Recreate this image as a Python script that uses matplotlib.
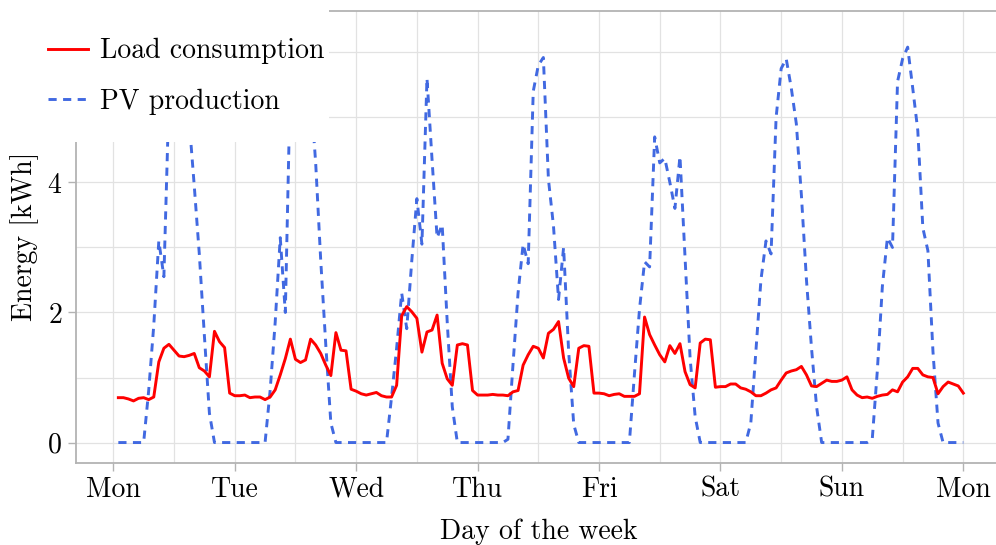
import numpy as np
import matplotlib
matplotlib.use("Agg")
import matplotlib.pyplot as plt
from matplotlib.patches import Rectangle
from matplotlib.ticker import MultipleLocator

plt.rcParams['font.family'] = ['cmr10', 'DejaVu Serif']
plt.rcParams['mathtext.fontset'] = 'cm'
plt.rcParams['axes.formatter.use_mathtext'] = True

# hourly index (end of hour), Monday 00:00 = 0
hours = np.arange(1, 169)

load = [
    # Mon
    0.69, 0.69, 0.67, 0.64, 0.68, 0.69, 0.66, 0.70, 1.24, 1.45, 1.51, 1.42,
    1.33, 1.32, 1.34, 1.37, 1.15, 1.10, 1.01, 1.71, 1.55, 1.46, 0.76, 0.72,
    # Tue
    0.72, 0.73, 0.69, 0.70, 0.70, 0.66, 0.70, 0.81, 1.04, 1.29, 1.59, 1.28,
    1.23, 1.27, 1.59, 1.50, 1.37, 1.19, 1.03, 1.69, 1.42, 1.41, 0.82, 0.79,
    # Wed
    0.75, 0.73, 0.75, 0.77, 0.72, 0.70, 0.70, 0.88, 1.95, 2.09, 2.01, 1.91,
    1.39, 1.70, 1.73, 1.96, 1.22, 0.98, 0.88, 1.50, 1.52, 1.50, 0.80, 0.73,
    # Thu
    0.73, 0.73, 0.74, 0.73, 0.73, 0.72, 0.78, 0.80, 1.19, 1.35, 1.48, 1.45,
    1.30, 1.68, 1.74, 1.86, 1.30, 0.99, 0.86, 1.45, 1.49, 1.48, 0.76, 0.76,
    # Fri
    0.75, 0.72, 0.74, 0.75, 0.71, 0.71, 0.71, 0.75, 1.93, 1.66, 1.50, 1.35,
    1.24, 1.49, 1.37, 1.52, 1.09, 0.89, 0.84, 1.53, 1.59, 1.58, 0.85, 0.86,
    # Sat
    0.86, 0.90, 0.90, 0.84, 0.82, 0.78, 0.72, 0.72, 0.76, 0.81, 0.84, 0.96,
    1.07, 1.10, 1.12, 1.17, 1.04, 0.87, 0.86, 0.91, 0.96, 0.94, 0.94, 0.96,
    # Sun
    1.01, 0.81, 0.73, 0.69, 0.70, 0.68, 0.71, 0.73, 0.74, 0.81, 0.78, 0.93,
    1.01, 1.14, 1.14, 1.04, 1.01, 1.00, 0.75, 0.86, 0.93, 0.90, 0.87, 0.76,
]

pv = [
    # Mon
    0, 0, 0, 0, 0, 0, 0.80, 1.80, 3.10, 2.55, 5.30, 5.80,
    6.00, 5.80, 4.95, 3.95, 2.90, 1.65, 0.45, 0, 0, 0, 0, 0,
    # Tue
    0, 0, 0, 0, 0, 0, 0.80, 1.85, 3.15, 2.00, 5.60, 5.90,
    6.00, 5.90, 5.40, 4.30, 2.80, 1.50, 0.30, 0, 0, 0, 0, 0,
    # Wed
    0, 0, 0, 0, 0, 0, 0.70, 1.45, 2.30, 1.75, 2.80, 3.75,
    3.05, 5.60, 4.35, 3.15, 3.35, 1.85, 0.55, 0, 0, 0, 0, 0,
    # Thu
    0, 0, 0, 0, 0, 0.05, 1.20, 2.30, 3.05, 2.75, 5.40, 5.80,
    5.92, 4.05, 3.33, 2.20, 3.00, 1.40, 0.28, 0, 0, 0, 0, 0,
    # Fri
    0, 0, 0, 0, 0, 0, 1.05, 2.05, 2.78, 2.70, 4.70, 4.30,
    4.37, 4.00, 3.60, 4.40, 2.85, 1.30, 0.40, 0, 0, 0, 0, 0,
    # Sat
    0, 0, 0, 0, 0, 0.30, 1.40, 2.50, 3.10, 2.90, 5.00, 5.75,
    5.90, 5.45, 4.90, 3.80, 2.50, 1.45, 0.55, 0, 0, 0, 0, 0,
    # Sun
    0, 0, 0, 0, 0, 0.05, 1.10, 2.40, 3.15, 3.00, 5.55, 5.90,
    6.08, 5.45, 4.80, 3.30, 2.95, 1.40, 0.30, 0, 0, 0, 0, 0,
]

day_labels = ['Mon', 'Tue', 'Wed', 'Thu', 'Fri', 'Sat', 'Sun', 'Mon']
y_ticks = [0, 2, 4, 6]

W, H = 996, 545
FS = 20
fig = plt.figure(figsize=(W / 100, H / 100), dpi=100)
ax = fig.add_axes([76 / W, 1 - 462.7 / H, (1000.6 - 76) / W, (462.7 - 10.7) / H])

x = hours / 24.0
ax.plot(x, load, color='#ff0000', lw=2.1, label='Load consumption', zorder=3)
ax.plot(x, pv, color='#4169e1', lw=2.1, dashes=(2.8, 2.2),
        label='PV production', zorder=2)

ax.set_xlim(-0.307, 7.307)
ax.set_ylim(-0.31, 6.64)

ax.set_xticks(range(len(day_labels)))
ax.set_xticklabels(day_labels)
ax.xaxis.set_minor_locator(MultipleLocator(0.5))
ax.set_yticks(y_ticks)
ax.yaxis.set_minor_locator(MultipleLocator(1))

ax.grid(True, which='both', color='#e2e2e2', lw=0.9)
ax.set_axisbelow(True)

for side in ['left', 'bottom', 'top', 'right']:
    ax.spines[side].set_color('#b3b3b3')
    ax.spines[side].set_linewidth(1.3)

ax.tick_params(axis='both', which='major', length=6, width=1.0, color='#b3b3b3',
               labelsize=FS, pad=4)
ax.tick_params(axis='both', which='minor', length=0)

ax.set_xlabel('Day of the week', fontsize=FS, labelpad=11)
ax.set_ylabel('Energy [kWh]', fontsize=FS, labelpad=6)

# white legend area
fig.patches.append(Rectangle((0, 1 - 141.7 / H), 329.3 / W, 141.7 / H,
                             transform=fig.transFigure, facecolor='white',
                             edgecolor='none', zorder=5))
leg = fig.legend(loc='upper left', bbox_to_anchor=(48 / W, 1 - 38 / H),
                 frameon=False, fontsize=FS, handlelength=1.44,
                 handletextpad=0.43, labelspacing=0.86, borderpad=0,
                 borderaxespad=0)
leg.set_zorder(6)

fig.savefig('out.png', dpi=100)
